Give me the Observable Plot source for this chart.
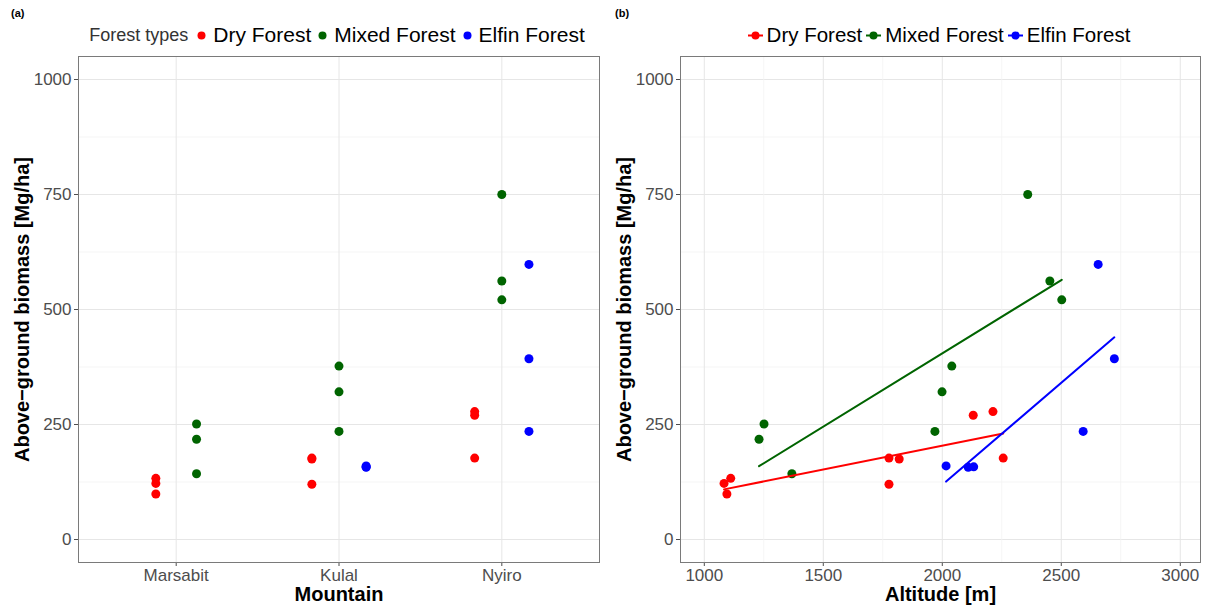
<!DOCTYPE html>
<html><head><meta charset="utf-8">
<script src="https://cdn.jsdelivr.net/npm/d3@7"></script>
<script src="https://cdn.jsdelivr.net/npm/@observablehq/plot@0.6"></script>
<style>
body{margin:0;background:#fff;font-family:"Liberation Sans",Arial,sans-serif;}
#wrap{position:relative;width:1205px;height:610px;overflow:hidden;background:#fff;}
.panel{position:absolute;top:0;}
.tag{position:absolute;top:7px;font-size:11px;font-weight:bold;color:#000;}
.legend{position:absolute;top:21px;height:28px;display:flex;align-items:center;justify-content:center;white-space:nowrap;color:#000;}
.legend .ttl{font-size:18px;color:#333;margin-right:5px;}
.legend .key{display:block;flex:none;}
.legend .lab{margin-left:3px;margin-right:3px;}
</style></head><body><div id="wrap"></div>
<script>
// ---- data ----
const mountains = ["Marsabit", "Kulal", "Nyiro"];
const forestTypes = ["Dry Forest", "Mixed Forest", "Elfin Forest"];
const forestColors = ["#ff0000", "#006400", "#0000ff"];

const plotMountain = ["Marsabit","Marsabit","Marsabit","Marsabit","Marsabit","Marsabit",
  "Kulal","Kulal","Kulal","Kulal","Kulal","Kulal","Kulal","Kulal","Kulal",
  "Nyiro","Nyiro","Nyiro","Nyiro","Nyiro","Nyiro","Nyiro","Nyiro","Nyiro"];
const plotForest = ["Dry Forest","Dry Forest","Dry Forest","Mixed Forest","Mixed Forest","Mixed Forest",
  "Dry Forest","Dry Forest","Dry Forest","Mixed Forest","Mixed Forest","Mixed Forest","Elfin Forest","Elfin Forest","Elfin Forest",
  "Dry Forest","Dry Forest","Dry Forest","Mixed Forest","Mixed Forest","Mixed Forest","Elfin Forest","Elfin Forest","Elfin Forest"];
const plotAltitude = [1083,1111,1095,1251,1230,1368,
  1776,1819,1776,1969,1999,2040,2016,2109,2132,
  2130,2213,2256,2359,2452,2502,2592,2655,2723];
const plotBiomass = [122,133,99,251,218,143,
  177,175,120,235,321,377,160,157,158,
  270,278,177,750,562,521,235,598,393];

const yTicks = [0, 250, 500, 750, 1000];
const yMinorTicks = [125, 375, 625, 875];
const altTicks = [1000, 1500, 2000, 2500, 3000];
const altMinorTicks = [1250, 1750, 2250, 2750];

const yTitle = "Above\u2212ground biomass [Mg/ha]";
const xTitleA = "Mountain";
const xTitleB = "Altitude [m]";
const legendTitle = "Forest types";

// ---- build ----
const data = plotMountain.map((m, i) => ({mountain: m, forest: plotForest[i], altitude: plotAltitude[i], biomass: plotBiomass[i]}));
const dodgeWidth = 0.5;
for (const m of mountains) {
  const present = forestTypes.filter(f => data.some(d => d.mountain === m && d.forest === f));
  data.filter(d => d.mountain === m).forEach(d => {
    const k = present.indexOf(d.forest);
    d.mx = mountains.indexOf(m) + 1 + (-0.5 + (k + 0.5) / present.length) * dodgeWidth;
  });
}

const font = '"Liberation Sans", Arial, sans-serif';
const gridMajor = "#e6e6e6", gridMinor = "#f2f2f2", frameCol = "#7a7a7a", tickCol = "#4d4d4d";
const plain = d => String(d);

function base(extra) {
  return Object.assign({
    height: 610, marginTop: 56, marginBottom: 48, marginLeft: 78,
    style: {fontFamily: font, background: "transparent", color: tickCol},
    y: {domain: [-50, 1050]},
    color: {domain: forestTypes, range: forestColors}
  }, extra);
}
const yMarks = () => [
  Plot.ruleY(yMinorTicks, {stroke: gridMinor, strokeWidth: 0.8}),
  Plot.ruleY(yTicks, {stroke: gridMajor, strokeWidth: 1})
];
const yAxisMarks = () => [
  Plot.axisY(yTicks, {tickSize: 4, tickPadding: 3, fontSize: 17, label: null, color: tickCol, tickFormat: plain}),
  Plot.text([yTitle], {frameAnchor: "left", dx: -56, rotate: -90, fontSize: 20, fontWeight: "bold", fill: "#000", textAnchor: "middle"})
];

const plotA = Plot.plot(base({
  width: 602, marginRight: 3,
  x: {domain: [0.4, 3.6]},
  marks: [
    ...yMarks(),
    Plot.ruleX([1, 2, 3], {stroke: gridMajor, strokeWidth: 1}),
    Plot.dot(data, {x: "mx", y: "biomass", fill: "forest", r: 4.5}),
    Plot.axisX([1, 2, 3], {tickSize: 4, tickPadding: 2, fontSize: 17, label: null, color: tickCol, tickFormat: i => mountains[i - 1]}),
    ...yAxisMarks(),
    Plot.text([xTitleA], {frameAnchor: "bottom", dy: 38, fontSize: 20, fontWeight: "bold", fill: "#000"}),
    Plot.frame({stroke: frameCol, strokeWidth: 1})
  ]
}));

const plotB = Plot.plot(base({
  width: 603, marginRight: 5,
  x: {domain: [900, 3085]},
  marks: [
    ...yMarks(),
    Plot.ruleX(altMinorTicks, {stroke: gridMinor, strokeWidth: 0.8}),
    Plot.ruleX(altTicks, {stroke: gridMajor, strokeWidth: 1}),
    Plot.dot(data, {x: "altitude", y: "biomass", fill: "forest", r: 4.5}),
    Plot.linearRegressionY(data, {x: "altitude", y: "biomass", stroke: "forest", ci: 0, strokeWidth: 2}),
    Plot.axisX(altTicks, {tickSize: 4, tickPadding: 2, fontSize: 17, label: null, color: tickCol, tickFormat: plain}),
    ...yAxisMarks(),
    Plot.text([xTitleB], {frameAnchor: "bottom", dy: 38, fontSize: 20, fontWeight: "bold", fill: "#000"}),
    Plot.frame({stroke: frameCol, strokeWidth: 1})
  ]
}));

const wrap = document.getElementById("wrap");
plotA.classList.add("panel"); plotA.style.left = "0px";
plotB.classList.add("panel"); plotB.style.left = "602px";
wrap.appendChild(plotA); wrap.appendChild(plotB);

function tag(txt, left) {
  const t = document.createElement("div"); t.className = "tag"; t.textContent = txt; t.style.left = left + "px"; wrap.appendChild(t);
}
tag("(a)", 11); tag("(b)", 615);

function legend(left, width, withTitle, withLine, fontSize) {
  const lg = document.createElement("div"); lg.className = "legend";
  lg.style.left = left + "px"; lg.style.width = width + "px"; lg.style.fontSize = fontSize + "px";
  if (withTitle) { const s = document.createElement("span"); s.className = "ttl"; s.textContent = legendTitle; lg.appendChild(s); }
  forestTypes.forEach((f, i) => {
    const ns = "http://www.w3.org/2000/svg";
    const svg = document.createElementNS(ns, "svg"); svg.setAttribute("width", 17); svg.setAttribute("height", 17); svg.setAttribute("class", "key");
    if (withLine) {
      const l = document.createElementNS(ns, "line");
      l.setAttribute("x1", 1); l.setAttribute("x2", 16); l.setAttribute("y1", 8.5); l.setAttribute("y2", 8.5);
      l.setAttribute("stroke", forestColors[i]); l.setAttribute("stroke-width", 2); svg.appendChild(l);
    }
    const c = document.createElementNS(ns, "circle");
    c.setAttribute("cx", 8.5); c.setAttribute("cy", 8.5); c.setAttribute("r", 4); c.setAttribute("fill", forestColors[i]);
    svg.appendChild(c); lg.appendChild(svg);
    const s = document.createElement("span"); s.className = "lab"; s.textContent = f; lg.appendChild(s);
  });
  wrap.appendChild(lg);
}
legend(78, 521, true, false, 21);
legend(680, 520, false, true, 20.5);
</script></body></html>
